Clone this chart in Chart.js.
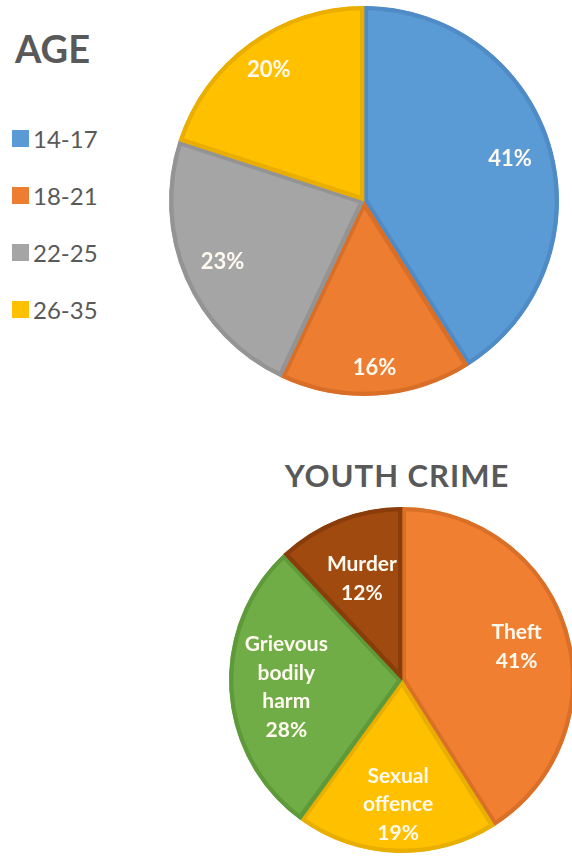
<!DOCTYPE html>
<html>
<head>
<meta charset="utf-8">
<script src="https://cdn.jsdelivr.net/npm/chart.js@4/dist/chart.umd.min.js"></script>
<style>
  body { margin: 0; width: 572px; height: 856px; overflow: hidden; background: #fff; position: relative; font-family: Lato, "Open Sans", sans-serif; }
  canvas { position: absolute; }
  .title { position: absolute; color: #595959; font-weight: 700; line-height: 1; white-space: nowrap; }
  #ageTitle { left: 15px; top: 29px; font-size: 38px; }
  #crimeTitle { left: 397px; top: 460px; font-size: 31px; transform: translateX(-50%); letter-spacing: 1px; }
  #ageLegend { position: absolute; left: 12px; top: 126px; margin: 0; padding: 0; list-style: none; }
  #ageLegend li { display: flex; align-items: center; height: 24px; margin-bottom: 33.3px; font-size: 24px; color: #595959; }
  #ageLegend span { display: inline-block; width: 17px; height: 17px; margin-right: 4px; }
</style>
</head>
<body>
<div id="ageTitle" class="title">AGE</div>
<ul id="ageLegend"></ul>
<canvas id="ageChart" width="572" height="410" style="left:0;top:0"></canvas>
<div id="crimeTitle" class="title">YOUTH CRIME</div>
<canvas id="crimeChart" width="600" height="366" style="left:0;top:490px"></canvas>
<script>
const ageLabels = ["14-17", "18-21", "22-25", "26-35"];
const agePercent = [41, 16, 23, 20];

const crimeLabels = ["Theft", "Sexual offence", "Grievous bodily harm", "Murder"];
const crimePercent = [41, 19, 28, 12];

const ageColors = ["#5b9bd5", "#ed7d31", "#a5a5a5", "#ffc000"];
const ageBorders = ["#4f8bc6", "#d96e27", "#949494", "#e9ae00"];
const crimeColors = ["#f07f32", "#ffc000", "#70ad47", "#a04a10"];
const crimeBorders = ["#da6f27", "#e8ae00", "#5f9a3a", "#8a3d0b"];

// writes each slice's text inside it, lines stacked around a point on the bisector
function sliceLabels(linesFor, radius, font, lineHeight, color) {
  return {
    id: "sliceLabels",
    afterDatasetsDraw(chart) {
      const ctx = chart.ctx;
      ctx.save();
      ctx.font = font;
      ctx.fillStyle = color;
      ctx.textAlign = "center";
      ctx.textBaseline = "middle";
      chart.getDatasetMeta(0).data.forEach((arc, i) => {
        const p = arc.getProps(["x", "y", "startAngle", "endAngle", "outerRadius"], true);
        const mid = (p.startAngle + p.endAngle) / 2;
        const r = p.outerRadius * radius[i];
        const cx = p.x + Math.cos(mid) * r;
        const cy = p.y + Math.sin(mid) * r;
        const lines = linesFor(i);
        lines.forEach((t, k) => {
          ctx.fillText(t, cx, cy + (k - (lines.length - 1) / 2) * lineHeight);
        });
      });
      ctx.restore();
    }
  };
}

const ageChart = new Chart(document.getElementById("ageChart"), {
  type: "pie",
  data: {
    labels: ageLabels,
    datasets: [{
      data: agePercent,
      backgroundColor: ageColors,
      borderColor: ageBorders,
      borderWidth: 4,
      borderAlign: "inner"
    }]
  },
  options: {
    responsive: false,
    animation: false,
    events: [],
    layout: { padding: { left: 169, right: 13, top: 6, bottom: 14 } },
    plugins: { legend: { display: false }, tooltip: { enabled: false } }
  },
  plugins: [sliceLabels(i => [agePercent[i] + "%"], [0.78, 0.86, 0.79, 0.83], "bold 22px Lato", 24, "#fffaf0")]
});

// legend for the age chart, from the chart's own legend items
const legendList = document.getElementById("ageLegend");
ageChart.options.plugins.legend.labels.generateLabels(ageChart).forEach(item => {
  const li = document.createElement("li");
  const box = document.createElement("span");
  box.style.background = item.fillStyle;
  li.appendChild(box);
  li.appendChild(document.createTextNode(item.text));
  legendList.appendChild(li);
});

new Chart(document.getElementById("crimeChart"), {
  type: "pie",
  data: {
    labels: crimeLabels,
    datasets: [{
      data: crimePercent,
      backgroundColor: crimeColors,
      borderColor: crimeBorders,
      borderWidth: 4,
      borderAlign: "inner"
    }]
  },
  options: {
    responsive: false,
    animation: false,
    events: [],
    layout: { padding: { left: 229, right: 25, top: 17, bottom: 3 } },
    plugins: { legend: { display: false }, tooltip: { enabled: false } }
  },
  plugins: [sliceLabels(i => crimeLabels[i].split(" ").concat(crimePercent[i] + "%"),
    [0.69, 0.72, 0.67, 0.63], "bold 21px Lato", 28.5, "#fffaf0")]
});
</script>
</body>
</html>
